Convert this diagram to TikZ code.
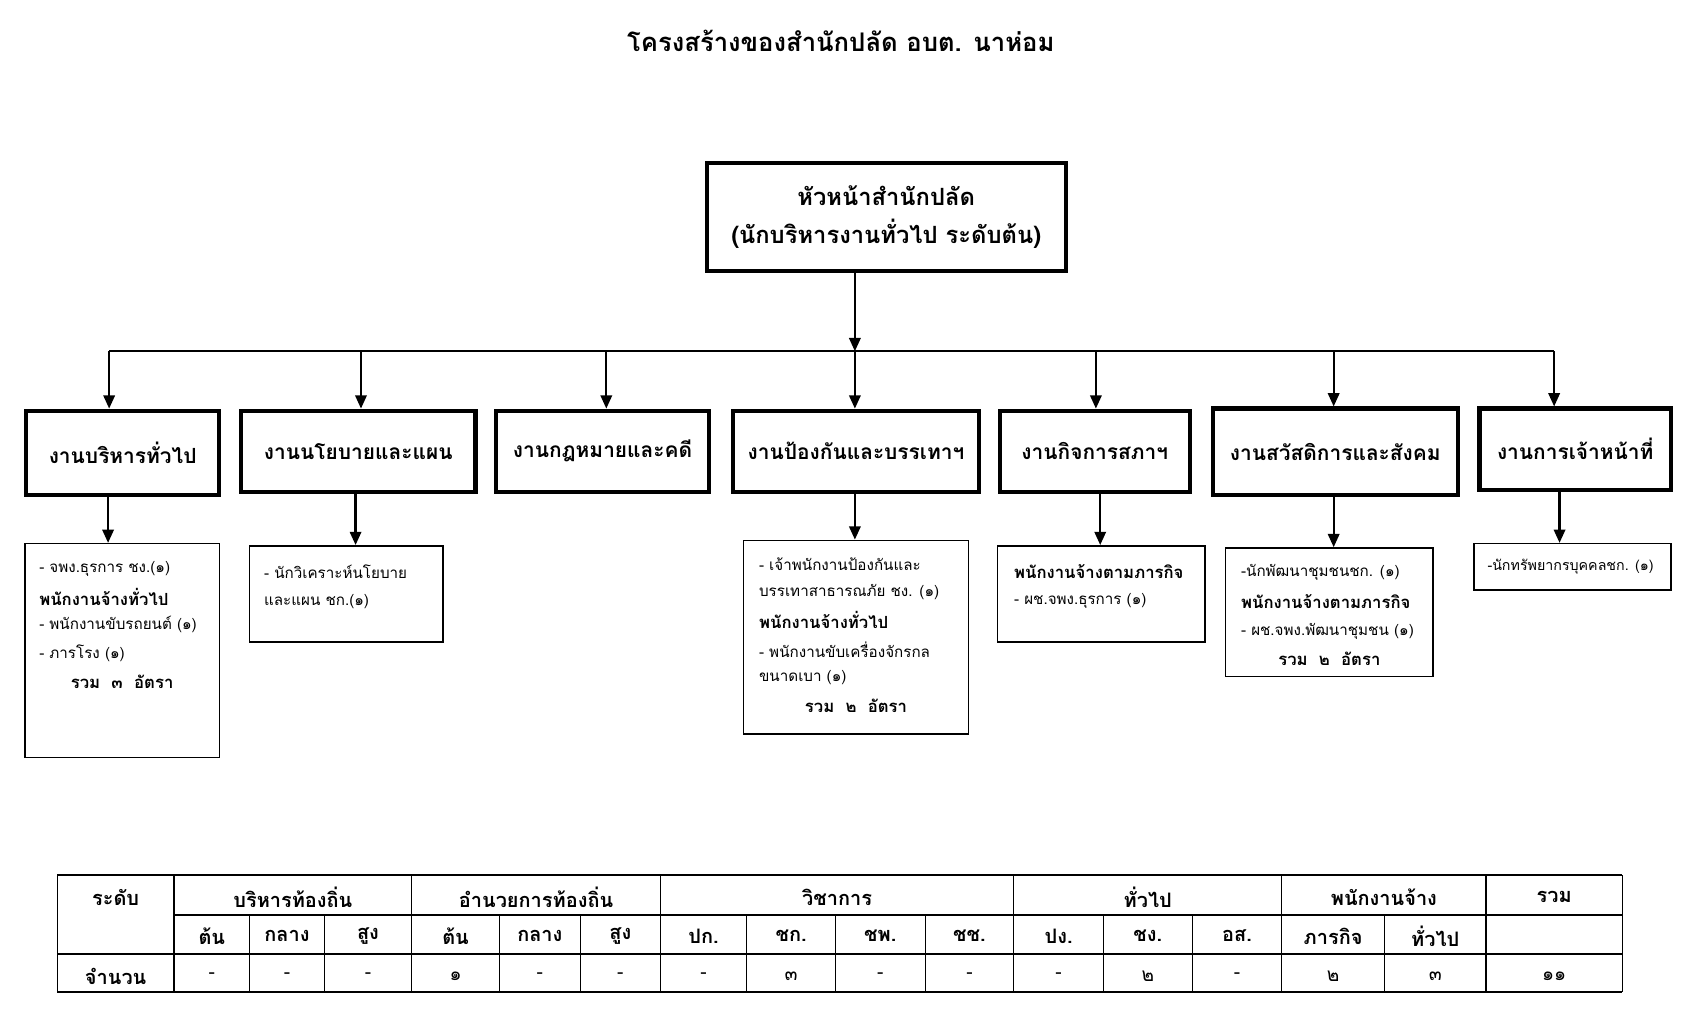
\documentclass[tikz,border=0pt]{standalone}
\usepackage{fontspec}
\setmainfont[Script=Thai]{Loma}
\usetikzlibrary{arrows.meta}
\begin{document}
\begin{tikzpicture}[x=0.02cm,y=-0.02cm,
  big/.style={draw,line width=2.2pt,inner sep=0pt,font=\bfseries\fontsize{11}{13}\selectfont},
  sub/.style={draw,line width=0.8pt,inner sep=0pt},
  tx/.style={anchor=west,inner sep=0pt,font=\fontsize{8}{10}\selectfont},
  tb/.style={anchor=west,inner sep=0pt,font=\bfseries\fontsize{8.8}{11}\selectfont},
  tc/.style={inner sep=0pt,font=\bfseries\fontsize{8.8}{11}\selectfont},
  arr/.style={-{Triangle[length=7pt,width=6pt]},line width=1.2pt},
  th/.style={inner sep=0pt,font=\bfseries\fontsize{10.5}{12}\selectfont},
  tv/.style={inner sep=0pt,font=\fontsize{10}{11}\selectfont}]
\useasboundingbox (0,0) rectangle (1560,938);
\node[inner sep=0pt,font=\bfseries\fontsize{13.5}{16}\selectfont] (title) at (778,38) {โครงสร้างของสำนักปลัด อบต. นาห่อม};
\node[big,minimum width=332*0.02cm,minimum height=100*0.02cm,align=center,font=\bfseries\fontsize{12.5}{20}\selectfont] (top) at (820,201) {หัวหน้าสำนักปลัด\\(นักบริหารงานทั่วไป ระดับต้น)};
% level 2
\node[big,minimum width=179*0.02cm,minimum height=78*0.02cm] (b1) at (113.5,419) {งานบริหารทั่วไป};
\node[big,minimum width=217*0.02cm,minimum height=75*0.02cm] (b2) at (331.5,417.5) {งานนโยบายและแผน};
\node[big,minimum width=197*0.02cm,minimum height=75*0.02cm] (b3) at (557.5,417.5) {งานกฎหมายและคดี};
\node[big,minimum width=228*0.02cm,minimum height=75*0.02cm] (b4) at (792,417.5) {งานป้องกันและบรรเทาฯ};
\node[big,minimum width=176*0.02cm,minimum height=75*0.02cm] (b5) at (1013,417.5) {งานกิจการสภาฯ};
\node[big,minimum width=227*0.02cm,minimum height=80*0.02cm] (b6) at (1235.5,418) {งานสวัสดิการและสังคม};
\node[big,minimum width=177*0.02cm,minimum height=75*0.02cm] (b7) at (1457.5,415.5) {งานการเจ้าหน้าที่};
% bus
\coordinate (bl) at (101,325); \coordinate (br) at (1438,325);
\coordinate (bm) at (791,325);
\draw[line width=1.2pt] (bl) -- (br);
\draw[arr] (top.south -| bm) -- (bm);
\foreach \n/\x in {b1/101,b2/334,b3/561,b4/791,b5/1014,b6/1234,b7/1438}
  \draw[arr] (\x,325) -- (\n.north -| {(\x,0)});
% sub boxes
\node[sub,minimum width=180*0.02cm,minimum height=198*0.02cm] (s1) at (113,602) {};
\node[sub,minimum width=179*0.02cm,minimum height=89*0.02cm] (s2) at (320.5,549.5) {};
\node[sub,minimum width=208*0.02cm,minimum height=179*0.02cm] (s4) at (792,589.5) {};
\node[sub,minimum width=192*0.02cm,minimum height=89*0.02cm] (s5) at (1019,549.5) {};
\node[sub,minimum width=192*0.02cm,minimum height=119*0.02cm] (s6) at (1230,566.5) {};
\node[sub,minimum width=182*0.02cm,minimum height=43*0.02cm] (s7) at (1455,524.5) {};
\draw[arr] (b1.south -| {(100,0)}) -- (s1.north -| {(100,0)});
\draw[arr] (b2.south -| {(329,0)}) -- (s2.north -| {(329,0)});
\draw[arr] (b4.south -| {(791,0)}) -- (s4.north -| {(791,0)});
\draw[arr] (b5.south -| {(1018,0)}) -- (s5.north -| {(1018,0)});
\draw[arr] (b6.south -| {(1234,0)}) -- (s6.north -| {(1234,0)});
\draw[arr] (b7.south -| {(1443,0)}) -- (s7.north -| {(1443,0)});
% texts
\node[tx] (a1) at (36,526) {- จพง.ธุรการ ชง.(๑)};
\node[tb] (a2) at (36,552) {พนักงานจ้างทั่วไป};
\node[tx] (a3) at (36,578) {- พนักงานขับรถยนต์ (๑)};
\node[tx] (a4) at (36,604) {- ภารโรง (๑)};
\node[tc] (a5) at (113,631) {รวม~~๓~~อัตรา};
\node[tx] (c1) at (244,529) {- นักวิเคราะห์นโยบาย};
\node[tx] (c2) at (244,557) {และแผน ชก.(๑)};
\node[tx] (d1) at (702,522) {- เจ้าพนักงานป้องกันและ};
\node[tx] (d2) at (702,548) {บรรเทาสาธารณภัย ชง. (๑)};
\node[tb] (d3) at (702,574) {พนักงานจ้างทั่วไป};
\node[tx] (d4) at (702,601) {- พนักงานขับเครื่องจักรกล};
\node[tx] (d5) at (702,627) {ขนาดเบา (๑)};
\node[tc] (d6) at (792,653) {รวม~~๒~~อัตรา};
\node[tb] (e1) at (938,529) {พนักงานจ้างตามภารกิจ};
\node[tx] (e2) at (938,556) {- ผช.จพง.ธุรการ (๑)};
\node[tx] (f1) at (1148,530) {-นักพัฒนาชุมชนชก. (๑)};
\node[tb] (f2) at (1148,557) {พนักงานจ้างตามภารกิจ};
\node[tx] (f3) at (1148,584) {- ผช.จพง.พัฒนาชุมชน (๑)};
\node[tc] (f4) at (1230,610) {รวม~~๒~~อัตรา};
\node[tx,font=\fontsize{7.5}{9}\selectfont] (g1) at (1376,524) {-นักทรัพยากรบุคคลชก. (๑)};
% table
\draw[line width=1pt] (53,810) -- (1501,810);
\draw[line width=1pt] (161,847) -- (1501,847);
\draw[line width=1pt] (53,883) -- (1501,883);
\draw[line width=1pt] (53,918) -- (1501,918);
\foreach \x in {53,161,381,611,938,1186,1375,1501} \draw[line width=0.6pt] (\x,810) -- (\x,918);
\foreach \x in {231,300,462,537,691,773,856,1021,1103,1281} \draw[line width=0.6pt] (\x,847) -- (\x,918);
\node[th] (h0) at (107,830) {ระดับ};
\node[th] (h1) at (271,830) {บริหารท้องถิ่น};
\node[th] (h2) at (496,830) {อำนวยการท้องถิ่น};
\node[th] (h3) at (774.5,830) {วิชาการ};
\node[th] (h4) at (1062,830) {ทั่วไป};
\node[th] (h5) at (1280.5,830) {พนักงานจ้าง};
\node[th] (h6) at (1438,830) {รวม};
\node[th] (r3) at (107,903) {จำนวน};
\foreach \x/\t/\v [count=\i] in {196/ต้น/-,265.5/กลาง/-,340.5/สูง/-,421.5/ต้น/๑,499.5/กลาง/-,574/สูง/-,651/ปก./-,732/ชก./๓,814.5/ชพ./-,897/ชช./-,979.5/ปง./-,1062/ชง./๒,1144.5/อส./-,1233.5/ภารกิจ/๒,1328/ทั่วไป/๓,1438//๑๑}{
  \node[th] (k\i) at (\x,866) {\t};
  \node[tv] (v\i) at (\x,903) {\v};
}
\end{tikzpicture}
\end{document}
